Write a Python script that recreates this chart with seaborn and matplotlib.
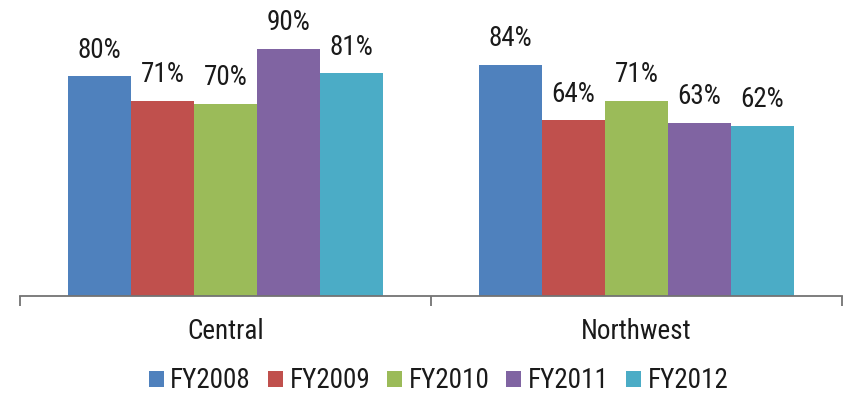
import matplotlib
matplotlib.use("Agg")
import matplotlib.pyplot as plt
import seaborn as sns
import pandas as pd
from matplotlib.font_manager import fontManager

regions = ["Central", "Northwest"]
years = ["FY2008", "FY2009", "FY2010", "FY2011", "FY2012"]
fy2008 = [80, 84]
fy2009 = [71, 64]
fy2010 = [70, 71]
fy2011 = [90, 63]
fy2012 = [81, 62]
colors = ["#4F81BD", "#C0504D", "#9BBB59", "#8064A2", "#4BACC6"]

sns.set_theme(style="white")

# narrow sans face, first one installed wins
installed = {f.name for f in fontManager.ttflist}
prefs = ["Liberation Sans Narrow", "Nimbus Sans Narrow", "Arial Narrow",
         "Roboto Condensed", "PT Sans Narrow", "Archivo Narrow"]
chosen = [f for f in prefs if f in installed][:1]
plt.rcParams["font.family"] = chosen + ["Liberation Sans", "DejaVu Sans"]

FS = 19.5

rows = []
for yr, vals in zip(years, [fy2008, fy2009, fy2010, fy2011, fy2012]):
    for reg, v in zip(regions, vals):
        rows.append({"Region": reg, "Year": yr, "Value": v})
df = pd.DataFrame(rows)

fig = plt.figure(figsize=(8.5, 3.96), dpi=100)
ax = fig.add_axes([20 / 850, 100 / 396, 822 / 850, 275 / 396])

sns.barplot(data=df, x="Region", y="Value", hue="Year", order=regions,
            hue_order=years, palette=colors, width=0.766, gap=0,
            saturation=1, linewidth=0, ax=ax, legend=True)

for cont in ax.containers:
    ax.bar_label(cont, fmt="%.0f%%", padding=9, fontsize=FS, color="#1a1a1a")

ax.set_ylim(0, 100)
ax.set_xlim(-0.5, 1.5)
ax.set_xlabel("")
ax.set_ylabel("")
ax.set_yticks([])
for side in ["left", "right", "top"]:
    ax.spines[side].set_visible(False)
ax.spines["bottom"].set_color("#737373")
ax.spines["bottom"].set_linewidth(1.3)
ax.set_xticks([-0.5, 0.5, 1.5], minor=True)
ax.tick_params(axis="x", which="major", bottom=False, labelsize=FS, pad=10, labelcolor="#1a1a1a")
ax.tick_params(axis="x", which="minor", bottom=True, length=7, width=1.3, color="#737373", direction="out")

handles, labels = ax.get_legend_handles_labels()
ax.legend(handles, labels, loc="center", bbox_to_anchor=(0.509, (396 - 381 - 100) / 275),
          ncol=5, frameon=False, fontsize=FS, handlelength=0.55, handleheight=0.55,
          handletextpad=0.25, columnspacing=0.62, labelcolor="#1a1a1a")

fig.savefig("out.png", dpi=100)
